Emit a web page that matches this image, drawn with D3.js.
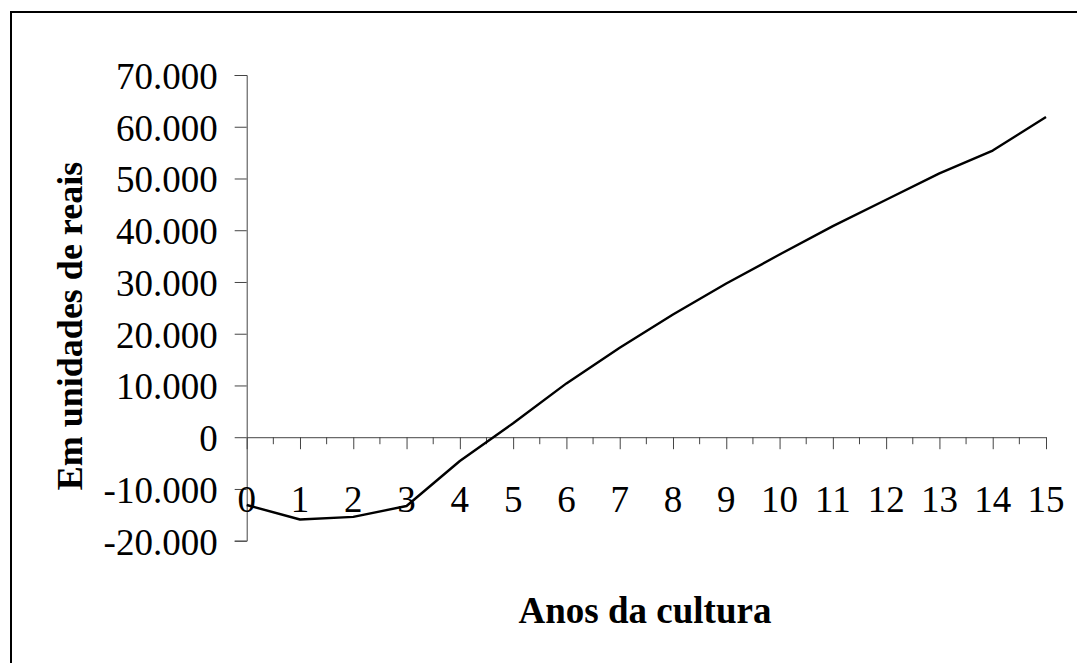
<!DOCTYPE html>
<html>
<head>
<meta charset="utf-8">
<script src="https://cdn.jsdelivr.net/npm/d3@7"></script>
<style>
  html, body { margin: 0; padding: 0; background: #fff; }
  svg { display: block; }
  text { font-family: "Liberation Serif", "Times New Roman", serif; fill: #000; }
</style>
</head>
<body>
<svg id="chart"></svg>
<script>
// anos da cultura
const anos = [0, 1, 2, 3, 4, 5, 6, 7, 8, 9, 10, 11, 12, 13, 14, 15];
// valor acumulado, em reais
const valores = [-13100, -15900, -15400, -13300, -4600, 2700, 10400, 17300,
                 23700, 29700, 35300, 40800, 45900, 51000, 55400, 61900];
const yTicks = [-20000, -10000, 0, 10000, 20000, 30000, 40000, 50000, 60000, 70000];

const size = { w: 1077, h: 663 };
const plot = { l: 246.7, r: 1046, t: 75, b: 540.7 };

const svg = d3.select('svg#chart')
    .attr('width', size.w)
    .attr('height', size.h);

// moldura
svg.append('rect')
    .attr('x', 11).attr('y', 12)
    .attr('width', 1200).attr('height', 1000)
    .attr('fill', 'none')
    .attr('stroke', '#000')
    .attr('stroke-width', 2);

const x = d3.scaleLinear().domain([0, 15]).range([plot.l, plot.r]);
const y = d3.scaleLinear().domain([-20000, 70000]).range([plot.b, plot.t]);

const pt = d3.formatLocale({ decimal: ',', thousands: '.', grouping: [3], currency: ['R$', ''], minus: '-' });
const fmt = pt.format(',');

// eixo y
const yAxis = svg.append('g')
    .attr('transform', `translate(${plot.l},0)`)
    .call(d3.axisLeft(y).tickValues(yTicks).tickFormat(fmt).tickSize(12).tickPadding(17));
yAxis.select('.domain').attr('stroke', '#444');
yAxis.selectAll('.tick line').attr('stroke', '#444');
yAxis.selectAll('.tick text')
    .style('font-family', '"Liberation Serif", serif')
    .style('font-size', '37px')
    .attr('dy', '0.36em');

// eixo x sobre o zero
const xAxisG = svg.append('g')
    .attr('transform', `translate(0,${y(0)})`);
xAxisG.call(d3.axisBottom(x).tickValues(anos).tickFormat(d => d).tickSize(12).tickSizeOuter(0))
    .call(g => g.selectAll('.tick text').remove());
xAxisG.select('.domain').attr('stroke', '#444');
xAxisG.selectAll('.tick line').attr('stroke', '#444');
// marcas menores
xAxisG.selectAll('line.minor')
    .data(anos.slice(0, -1))
    .join('line')
    .classed('minor', true)
    .attr('x1', d => x(d + 0.5)).attr('x2', d => x(d + 0.5))
    .attr('y1', 0).attr('y2', 7)
    .attr('stroke', '#444');

// rótulos das categorias
svg.append('g').selectAll('text')
    .data(anos)
    .join('text')
    .attr('x', d => x(d))
    .attr('y', 512)
    .attr('text-anchor', 'middle')
    .style('font-size', '37px')
    .text(d => d);

// linha
const line = d3.line()
    .x((d, i) => x(anos[i]))
    .y(d => y(d));
svg.append('path')
    .datum(valores)
    .attr('d', line)
    .attr('fill', 'none')
    .attr('stroke', '#000')
    .attr('stroke-width', 2.4)
    .attr('stroke-linejoin', 'round');

// títulos
svg.append('text')
    .attr('x', 645).attr('y', 623)
    .attr('text-anchor', 'middle')
    .style('font-size', '37px')
    .style('font-weight', 'bold')
    .text('Anos da cultura');

svg.append('text')
    .attr('transform', 'translate(82,326) rotate(-90)')
    .attr('text-anchor', 'middle')
    .style('font-size', '36px')
    .style('font-weight', 'bold')
    .text('Em unidades de reais');
</script>
</body>
</html>
